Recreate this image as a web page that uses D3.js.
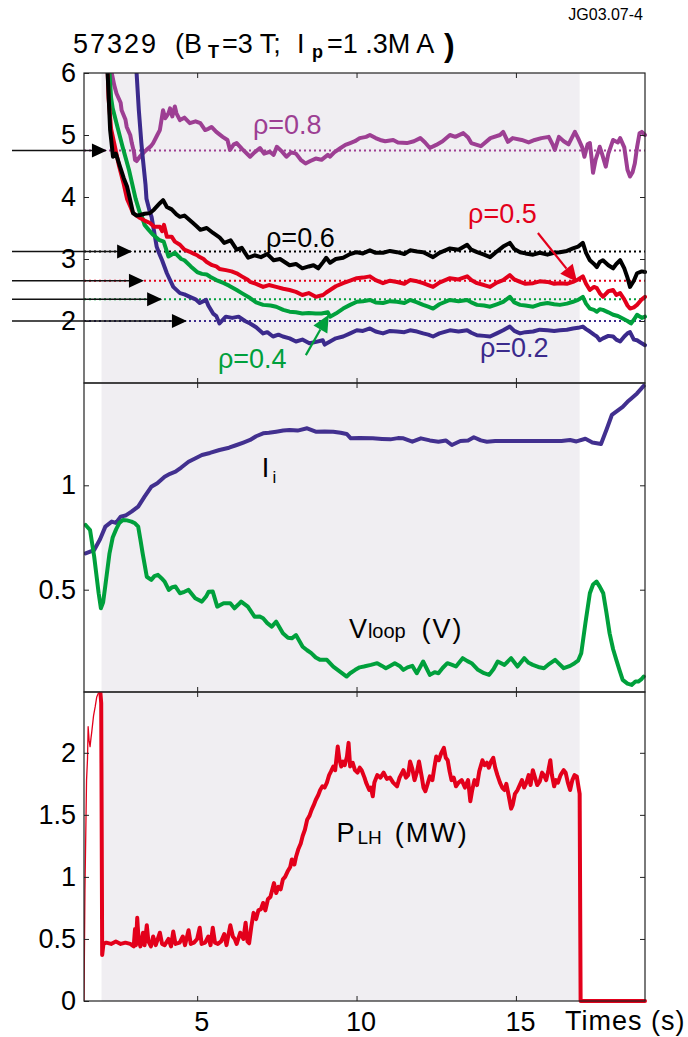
<!DOCTYPE html>
<html>
<head>
<meta charset="utf-8">
<script src="https://cdn.jsdelivr.net/npm/d3@7"></script>
<style>
  body { margin: 0; background: #fff; }
  svg { display: block; font-family: "Liberation Sans", Arial, Helvetica, sans-serif; }
</style>
</head>
<body>
<script>
// ---------------- DATA ----------------
const xTicks = [5, 10, 15];
const p1Ticks = [2, 3, 4, 5, 6];
const p2Ticks = [0.5, 1];
const p3Ticks = [0, 0.5, 1, 1.5, 2];
const shadeTimes = [2.0, 17.0];

// Panel 1: q profiles at several radii [time (s), q]
const rho08 = [[2.25,6.4],[2.32,6.0],[2.4,5.8],[2.47,5.67],[2.6,5.52],[2.63,5.4],[2.75,5.25],[2.79,5.13],[2.9,5.0],[2.95,4.87],[3.02,4.72],[3.05,4.6],[3.1,4.58],[3.2,4.65],[3.33,4.72],[3.41,4.76],[3.55,4.82],[3.62,4.87],[3.75,5.0],[3.83,5.08],[3.93,5.4],[4.0,5.27],[4.1,5.35],[4.15,5.43],[4.22,5.3],[4.3,5.46],[4.35,5.35],[4.46,5.24],[4.6,5.28],[4.77,5.19],[4.95,5.22],[5.1,5.19],[5.25,5.08],[5.35,5.1],[5.45,5.13],[5.6,5.05],[5.8,4.97],[5.95,4.92],[6.03,4.76],[6.15,4.85],[6.24,4.87],[6.4,4.78],[6.66,4.65],[6.8,4.72],[6.97,4.79],[7.1,4.7],[7.28,4.73],[7.4,4.68],[7.5,4.81],[7.65,4.74],[7.8,4.65],[7.95,4.72],[8.1,4.7],[8.25,4.6],[8.4,4.54],[8.55,4.58],[8.72,4.62],[8.9,4.6],[9.1,4.68],[9.17,4.65],[9.3,4.72],[9.5,4.79],[9.65,4.84],[9.8,4.87],[9.95,4.9],[10.1,4.95],[10.3,4.97],[10.42,5.0],[10.6,4.95],[10.74,4.92],[10.9,4.9],[11.15,4.92],[11.3,4.88],[11.58,4.87],[11.8,4.9],[12.0,4.95],[12.15,4.88],[12.3,4.79],[12.5,4.84],[12.7,4.9],[12.93,5.0],[13.1,4.97],[13.35,5.03],[13.5,4.96],[13.6,4.87],[13.9,4.82],[14.2,4.95],[14.5,5.0],[14.6,5.05],[14.75,4.89],[14.9,4.95],[15.18,4.92],[15.4,4.88],[15.59,4.92],[15.8,4.95],[16.03,4.97],[16.15,4.85],[16.22,4.76],[16.35,4.97],[16.5,4.9],[16.65,4.85],[16.85,5.05],[16.95,4.95],[17.08,4.8],[17.15,4.65],[17.25,4.85],[17.32,4.87],[17.38,4.6],[17.42,4.39],[17.5,4.6],[17.63,4.81],[17.7,4.7],[17.82,4.49],[17.9,4.7],[18.05,4.92],[18.2,4.88],[18.27,4.95],[18.4,4.8],[18.5,4.44],[18.58,4.33],[18.66,4.4],[18.73,4.54],[18.8,4.8],[18.88,5.03],[18.95,5.05],[19.05,5.0]];

const rho06 = [[2.15,6.4],[2.2,5.9],[2.27,5.08],[2.36,4.65],[2.45,4.7],[2.58,4.49],[2.7,4.3],[2.8,4.17],[2.9,3.95],[2.99,3.74],[3.1,3.7],[3.21,3.71],[3.35,3.73],[3.52,3.74],[3.65,3.8],[3.83,3.9],[3.93,3.95],[4.05,3.84],[4.2,3.8],[4.35,3.72],[4.46,3.68],[4.6,3.7],[4.87,3.58],[5.0,3.52],[5.1,3.47],[5.3,3.5],[5.5,3.42],[5.7,3.35],[5.85,3.26],[6.05,3.3],[6.24,3.15],[6.4,3.18],[6.6,3.02],[6.8,3.06],[7.0,3.03],[7.2,3.08],[7.4,2.98],[7.6,3.0],[7.9,2.9],[8.1,2.92],[8.3,2.85],[8.5,2.88],[8.65,2.9],[8.8,2.85],[8.95,2.95],[9.05,3.02],[9.17,2.94],[9.35,3.0],[9.58,3.02],[9.8,3.08],[10.01,3.11],[10.2,3.09],[10.42,3.14],[10.6,3.1],[10.83,3.1],[11.05,3.13],[11.27,3.11],[11.5,3.08],[11.68,3.14],[11.9,3.12],[12.09,3.11],[12.25,3.07],[12.4,3.03],[12.6,3.1],[12.93,3.17],[13.2,3.15],[13.47,3.23],[13.6,3.15],[13.78,3.11],[14.0,3.07],[14.19,3.03],[14.4,3.12],[14.6,3.2],[14.81,3.26],[14.95,3.16],[15.13,3.11],[15.3,3.09],[15.54,3.07],[15.75,3.1],[15.99,3.07],[16.2,3.1],[16.38,3.11],[16.6,3.13],[16.79,3.17],[16.95,3.2],[17.1,3.26],[17.2,3.1],[17.32,2.98],[17.45,2.92],[17.54,2.87],[17.63,2.95],[17.73,2.98],[17.9,2.9],[18.05,2.85],[18.15,2.92],[18.27,2.98],[18.4,2.85],[18.5,2.7],[18.58,2.55],[18.7,2.65],[18.8,2.77],[18.95,2.8],[19.05,2.79]];

const rho05 = [[2.17,6.4],[2.22,5.6],[2.3,5.1],[2.42,4.81],[2.55,4.5],[2.7,4.2],[2.8,3.97],[2.9,3.85],[2.99,3.74],[3.1,3.7],[3.21,3.66],[3.35,3.62],[3.52,3.58],[3.65,3.52],[3.83,3.52],[3.9,3.45],[3.96,3.55],[4.05,3.36],[4.2,3.36],[4.3,3.28],[4.46,3.23],[4.6,3.15],[4.75,3.12],[4.87,3.09],[5.0,3.06],[5.05,3.04],[5.2,3.0],[5.3,2.95],[5.47,2.9],[5.6,2.88],[5.7,2.84],[5.9,2.82],[6.08,2.8],[6.24,2.77],[6.4,2.72],[6.6,2.66],[6.66,2.63],[6.85,2.6],[7.07,2.55],[7.25,2.58],[7.48,2.55],[7.7,2.52],[7.9,2.5],[8.1,2.47],[8.3,2.42],[8.5,2.45],[8.72,2.39],[8.95,2.42],[9.05,2.46],[9.17,2.5],[9.35,2.56],[9.58,2.61],[9.8,2.65],[10.01,2.69],[10.2,2.7],[10.42,2.72],[10.6,2.66],[10.83,2.61],[11.05,2.65],[11.27,2.63],[11.5,2.6],[11.68,2.66],[11.9,2.64],[12.09,2.61],[12.25,2.58],[12.4,2.55],[12.6,2.62],[12.93,2.69],[13.2,2.67],[13.47,2.72],[13.6,2.66],[13.78,2.61],[14.0,2.58],[14.19,2.55],[14.4,2.62],[14.6,2.66],[14.81,2.74],[14.95,2.67],[15.13,2.63],[15.3,2.6],[15.54,2.61],[15.75,2.64],[15.99,2.63],[16.2,2.6],[16.38,2.61],[16.6,2.6],[16.79,2.63],[16.95,2.67],[17.1,2.72],[17.2,2.6],[17.32,2.5],[17.45,2.55],[17.54,2.53],[17.63,2.45],[17.73,2.39],[17.9,2.48],[18.05,2.5],[18.15,2.42],[18.27,2.45],[18.4,2.35],[18.5,2.25],[18.58,2.2],[18.7,2.22],[18.8,2.26],[18.95,2.35],[19.05,2.39]];

const rho04 = [[2.2,6.4],[2.3,5.6],[2.35,5.43],[2.5,5.13],[2.66,4.81],[2.86,4.44],[3.07,3.97],[3.2,3.75],[3.27,3.68],[3.35,3.55],[3.48,3.47],[3.6,3.4],[3.8,3.31],[3.95,3.28],[4.1,3.04],[4.3,3.1],[4.5,3.0],[4.6,2.98],[4.8,2.88],[5.0,2.79],[5.15,2.76],[5.3,2.75],[5.42,2.71],[5.6,2.66],[5.84,2.61],[6.0,2.57],[6.24,2.5],[6.4,2.45],[6.66,2.37],[6.85,2.3],[7.07,2.26],[7.3,2.25],[7.48,2.23],[7.7,2.18],[7.9,2.15],[8.1,2.14],[8.3,2.12],[8.5,2.13],[8.72,2.12],[8.9,2.12],[9.1,2.14],[9.17,2.07],[9.35,2.12],[9.58,2.2],[9.8,2.26],[10.01,2.31],[10.2,2.32],[10.42,2.34],[10.6,2.3],[10.83,2.29],[11.05,2.32],[11.27,2.31],[11.5,2.29],[11.68,2.34],[11.9,2.3],[12.09,2.26],[12.25,2.23],[12.4,2.2],[12.6,2.27],[12.93,2.34],[13.2,2.32],[13.47,2.34],[13.6,2.3],[13.78,2.26],[14.0,2.25],[14.19,2.23],[14.4,2.27],[14.6,2.31],[14.81,2.39],[14.95,2.3],[15.13,2.26],[15.3,2.25],[15.54,2.23],[15.75,2.27],[15.99,2.29],[16.2,2.27],[16.38,2.26],[16.6,2.28],[16.79,2.31],[16.95,2.34],[17.1,2.39],[17.2,2.28],[17.32,2.2],[17.45,2.18],[17.54,2.15],[17.63,2.19],[17.73,2.18],[17.9,2.14],[18.05,2.1],[18.2,2.08],[18.35,2.04],[18.5,2.0],[18.61,1.96],[18.7,2.02],[18.8,2.1],[18.95,2.05],[19.05,2.07]];

const rho02 = [[3.05,6.4],[3.1,6.0],[3.17,5.4],[3.25,4.87],[3.3,4.6],[3.38,4.2],[3.41,3.97],[3.52,3.75],[3.57,3.68],[3.73,3.2],[3.8,3.1],[3.9,2.98],[4.05,2.77],[4.25,2.55],[4.46,2.45],[4.6,2.43],[4.77,2.39],[4.95,2.35],[5.08,2.29],[5.28,2.34],[5.35,2.25],[5.5,2.12],[5.6,2.08],[5.7,1.96],[5.9,2.07],[6.1,2.05],[6.3,2.07],[6.5,2.0],[6.66,1.96],[6.85,1.9],[7.07,1.8],[7.2,1.82],[7.38,1.75],[7.55,1.78],[7.69,1.75],[7.9,1.72],[8.1,1.67],[8.3,1.7],[8.52,1.64],[8.7,1.66],[8.94,1.69],[9.0,1.62],[9.17,1.67],[9.35,1.72],[9.58,1.75],[9.8,1.8],[10.01,1.85],[10.2,1.84],[10.42,1.88],[10.6,1.83],[10.83,1.8],[11.05,1.84],[11.27,1.83],[11.5,1.82],[11.68,1.85],[11.9,1.83],[12.09,1.8],[12.25,1.78],[12.4,1.75],[12.6,1.8],[12.93,1.85],[13.2,1.83],[13.47,1.85],[13.6,1.81],[13.78,1.77],[14.0,1.76],[14.19,1.75],[14.4,1.8],[14.6,1.85],[14.81,1.91],[14.95,1.84],[15.13,1.8],[15.3,1.82],[15.54,1.83],[15.75,1.86],[15.99,1.85],[16.2,1.84],[16.38,1.85],[16.6,1.86],[16.79,1.88],[16.95,1.89],[17.1,1.91],[17.2,1.87],[17.32,1.83],[17.45,1.78],[17.54,1.75],[17.63,1.69],[17.73,1.72],[17.9,1.76],[18.05,1.75],[18.15,1.7],[18.27,1.67],[18.4,1.75],[18.5,1.8],[18.58,1.82],[18.7,1.7],[18.8,1.69],[18.95,1.64],[19.05,1.61]];

// reference q levels (dotted) and arrow tip times
const refLevels = [
  { name: "0.8", q: 4.75, tip: 2.17 },
  { name: "0.6", q: 3.12, tip: 2.96 },
  { name: "0.5", q: 2.65, tip: 3.33 },
  { name: "0.4", q: 2.35, tip: 3.90 },
  { name: "0.2", q: 2.00, tip: 4.68 }
];

// Panel 2: internal inductance li and loop voltage
const li = [[1.5,0.674],[1.77,0.69],[1.95,0.74],[2.12,0.802],[2.32,0.826],[2.45,0.82],[2.6,0.85],[2.75,0.855],[2.94,0.874],[3.15,0.898],[3.35,0.946],[3.56,0.993],[3.75,1.01],[3.98,1.041],[4.15,1.055],[4.32,1.065],[4.5,1.085],[4.73,1.113],[4.95,1.13],[5.15,1.145],[5.4,1.155],[5.7,1.169],[6.0,1.18],[6.24,1.193],[6.45,1.205],[6.66,1.217],[6.85,1.235],[7.07,1.249],[7.25,1.252],[7.48,1.257],[7.7,1.262],[7.9,1.265],[8.15,1.262],[8.45,1.273],[8.72,1.257],[9.0,1.258],[9.27,1.257],[9.5,1.252],[9.69,1.246],[9.82,1.225],[10.1,1.226],[10.51,1.225],[10.8,1.222],[11.06,1.22],[11.3,1.226],[11.47,1.225],[11.75,1.209],[12.02,1.225],[12.3,1.215],[12.57,1.209],[12.8,1.215],[12.99,1.193],[13.26,1.212],[13.5,1.215],[13.68,1.23],[13.9,1.215],[14.09,1.209],[14.35,1.212],[14.64,1.212],[15.0,1.212],[15.33,1.212],[15.8,1.212],[16.2,1.212],[16.43,1.212],[16.7,1.217],[16.9,1.21],[17.18,1.223],[17.4,1.205],[17.67,1.198],[17.85,1.27],[18.01,1.337],[18.35,1.376],[18.5,1.40],[18.63,1.417],[18.8,1.44],[19.01,1.476]];

const vloop = [[1.5,0.81],[1.64,0.786],[1.77,0.658],[1.91,0.483],[1.98,0.411],[2.05,0.44],[2.12,0.52],[2.25,0.674],[2.35,0.75],[2.46,0.79],[2.56,0.82],[2.67,0.834],[2.8,0.832],[2.94,0.826],[3.05,0.818],[3.15,0.802],[3.22,0.74],[3.29,0.674],[3.42,0.562],[3.56,0.547],[3.66,0.565],[3.77,0.571],[3.88,0.555],[3.98,0.539],[4.11,0.499],[4.22,0.512],[4.32,0.515],[4.46,0.483],[4.6,0.49],[4.73,0.499],[4.94,0.459],[5.15,0.443],[5.28,0.467],[5.36,0.49],[5.49,0.491],[5.63,0.419],[5.83,0.435],[6.04,0.435],[6.17,0.411],[6.3,0.43],[6.38,0.443],[6.59,0.419],[6.8,0.371],[6.95,0.372],[7.07,0.363],[7.2,0.34],[7.34,0.323],[7.48,0.347],[7.69,0.291],[7.85,0.27],[7.97,0.267],[8.1,0.283],[8.31,0.227],[8.45,0.21],[8.58,0.196],[8.72,0.175],[8.86,0.164],[9.07,0.164],[9.27,0.132],[9.48,0.108],[9.69,0.084],[9.8,0.1],[9.96,0.116],[10.1,0.128],[10.23,0.132],[10.45,0.14],[10.65,0.148],[10.8,0.135],[10.92,0.124],[11.05,0.135],[11.2,0.148],[11.35,0.135],[11.47,0.116],[11.6,0.128],[11.75,0.135],[11.89,0.1],[12.09,0.156],[12.3,0.092],[12.45,0.105],[12.57,0.1],[12.7,0.125],[12.85,0.148],[13.0,0.14],[13.12,0.132],[13.33,0.172],[13.48,0.158],[13.61,0.148],[13.81,0.116],[14.0,0.1],[14.16,0.092],[14.3,0.12],[14.43,0.156],[14.64,0.14],[14.85,0.172],[15.05,0.132],[15.26,0.172],[15.4,0.15],[15.53,0.14],[15.7,0.13],[15.88,0.124],[16.05,0.145],[16.23,0.164],[16.5,0.124],[16.7,0.135],[16.84,0.148],[16.95,0.16],[17.05,0.196],[17.18,0.339],[17.32,0.483],[17.42,0.525],[17.53,0.539],[17.63,0.515],[17.74,0.483],[17.84,0.39],[17.94,0.291],[18.05,0.215],[18.15,0.164],[18.25,0.115],[18.35,0.068],[18.5,0.05],[18.63,0.044],[18.75,0.06],[18.84,0.06],[18.93,0.07],[19.01,0.084]];

// Panel 3: lower hybrid power (MW)
const plhStart = [[1.45,0.0],[1.48,0.9],[1.53,1.78],[1.56,1.95],[1.58,2.21],[1.61,2.1],[1.64,2.05],[1.67,2.12],[1.69,2.16],[1.75,2.3],[1.8,2.37],[1.85,2.45],[1.9,2.48]];
const plh = [[1.93,2.6],[1.99,2.4],[2.02,0.37],[2.06,0.46],[2.15,0.47],[2.3,0.46],[2.45,0.48],[2.6,0.46],[2.75,0.47],[2.9,0.46],[3.01,0.44],[3.05,0.58],[3.08,0.45],[3.12,0.67],[3.16,0.5],[3.22,0.44],[3.3,0.55],[3.35,0.45],[3.42,0.61],[3.47,0.48],[3.55,0.44],[3.62,0.52],[3.7,0.45],[3.83,0.55],[3.9,0.46],[3.98,0.45],[4.1,0.5],[4.18,0.44],[4.25,0.56],[4.32,0.46],[4.45,0.47],[4.55,0.52],[4.62,0.45],[4.73,0.57],[4.8,0.46],[4.9,0.47],[5.0,0.5],[5.08,0.59],[5.14,0.46],[5.25,0.47],[5.35,0.52],[5.42,0.45],[5.49,0.59],[5.56,0.47],[5.65,0.46],[5.75,0.48],[5.85,0.54],[5.92,0.45],[6.04,0.61],[6.12,0.52],[6.18,0.5],[6.24,0.46],[6.35,0.55],[6.45,0.5],[6.52,0.63],[6.58,0.48],[6.63,0.465],[6.7,0.6],[6.77,0.71],[6.85,0.66],[6.92,0.73],[7.0,0.74],[7.07,0.79],[7.14,0.73],[7.22,0.82],[7.3,0.84],[7.41,0.95],[7.48,0.87],[7.55,0.92],[7.62,0.9],[7.69,0.98],[7.76,1.0],[7.85,1.05],[7.92,1.08],[7.97,1.14],[8.05,1.1],[8.1,1.16],[8.17,1.22],[8.25,1.27],[8.31,1.33],[8.38,1.38],[8.45,1.46],[8.52,1.49],[8.59,1.54],[8.66,1.58],[8.72,1.62],[8.8,1.66],[8.86,1.7],[8.93,1.73],[9.0,1.72],[9.07,1.76],[9.14,1.82],[9.2,1.85],[9.27,1.89],[9.33,1.86],[9.41,2.05],[9.46,1.95],[9.52,1.89],[9.58,1.93],[9.63,1.9],[9.7,1.97],[9.75,2.08],[9.8,1.89],[9.88,1.92],[9.95,1.86],[10.03,1.84],[10.1,1.88],[10.16,1.86],[10.25,1.8],[10.3,1.76],[10.4,1.7],[10.45,1.72],[10.51,1.65],[10.56,1.76],[10.65,1.82],[10.75,1.8],[10.85,1.84],[10.95,1.79],[11.05,1.8],[11.15,1.76],[11.27,1.73],[11.35,1.8],[11.47,1.86],[11.55,1.8],[11.62,1.82],[11.68,1.93],[11.75,1.87],[11.82,1.78],[11.9,1.85],[11.96,1.93],[12.05,1.8],[12.1,1.72],[12.16,1.69],[12.23,1.75],[12.3,1.81],[12.38,1.78],[12.44,1.88],[12.5,1.97],[12.58,1.94],[12.66,2.0],[12.74,2.04],[12.8,1.96],[12.86,1.94],[12.92,1.85],[12.98,1.78],[13.05,1.8],[13.12,1.73],[13.2,1.76],[13.3,1.78],[13.4,1.72],[13.5,1.78],[13.57,1.61],[13.63,1.7],[13.7,1.78],[13.78,1.74],[13.85,1.85],[13.95,1.94],[14.02,1.9],[14.09,1.92],[14.15,1.88],[14.22,1.93],[14.29,1.96],[14.35,1.88],[14.42,1.82],[14.5,1.76],[14.57,1.72],[14.64,1.7],[14.7,1.75],[14.77,1.66],[14.85,1.55],[14.9,1.58],[14.97,1.67],[15.05,1.7],[15.12,1.74],[15.19,1.78],[15.26,1.72],[15.33,1.76],[15.4,1.82],[15.46,1.74],[15.53,1.86],[15.6,1.8],[15.67,1.74],[15.75,1.77],[15.82,1.84],[15.88,1.82],[15.95,1.78],[16.02,1.86],[16.08,1.94],[16.13,1.82],[16.2,1.73],[16.26,1.78],[16.32,1.76],[16.4,1.82],[16.5,1.86],[16.56,1.84],[16.63,1.76],[16.7,1.7],[16.77,1.78],[16.84,1.82],[16.91,1.81],[16.96,1.73],[17.0,1.67],[17.03,0.0],[19.05,0.0]];

// ---------------- CHART ----------------
const W = 688, H = 1037;
const FONT = 27;
const LW = 4;
const svg = d3.select("body").append("svg").attr("width", W).attr("height", H);

const x = d3.scaleLinear().domain([1.45, 19.05]).range([84, 645]);
const y1 = d3.scaleLinear().domain([1, 6]).range([383, 73]);
const y2 = d3.scaleLinear().domain([0.01, 1.49]).range([692, 383]);
const y3 = d3.scaleLinear().domain([0, 2.49]).range([1001, 692]);

const C = {
  purple: "#9d3f93", black: "#000000", red: "#e3001b",
  green: "#00a03c", navy: "#3b2a8c", shade: "#f0eef2", axis: "#222"
};

// shading (whole height)
svg.append("rect")
  .attr("x", x(shadeTimes[0])).attr("y", y1.range()[1])
  .attr("width", x(shadeTimes[1]) - x(shadeTimes[0]))
  .attr("height", y3.range()[0] - y1.range()[1])
  .attr("fill", C.shade);

const defs = svg.append("defs");
function clip(id, y, extraBottom) {
  defs.append("clipPath").attr("id", id).append("rect")
    .attr("x", x.range()[0]).attr("y", y.range()[1])
    .attr("width", x.range()[1] - x.range()[0] + 2)
    .attr("height", y.range()[0] - y.range()[1] + extraBottom);
}
clip("c1", y1, 0); clip("c2", y2, 0); clip("c3", y3, 3);

function drawLine(g, data, y, color, w) {
  g.append("path").datum(data)
    .attr("d", d3.line().x(d => x(d[0])).y(d => y(d[1])))
    .attr("fill", "none").attr("stroke", color).attr("stroke-width", w)
    .attr("stroke-linejoin", "round").attr("stroke-linecap", "round");
}

// axes
function axes(y, ticks, showLabels, showX) {
  const gl = svg.append("g").attr("transform", `translate(${x.range()[0]},0)`)
    .call(d3.axisLeft(y).tickValues(ticks).tickSize(-5).tickPadding(8)
      .tickFormat(showLabels ? d => String(d) : ""));
  gl.select(".domain").remove();
  gl.selectAll("line").attr("stroke", C.axis);
  gl.selectAll("text").attr("font-size", FONT).attr("fill", "#000")
    .attr("font-family", '"Liberation Sans", Arial, sans-serif');
  const gr = svg.append("g").attr("transform", `translate(${x.range()[1]},0)`)
    .call(d3.axisRight(y).tickValues(ticks.filter(t => t > y.domain()[0] + 0.02 && t < y.domain()[1] - 0.02)).tickSize(-5).tickFormat(""));
  gr.select(".domain").remove();
  gr.selectAll("line").attr("stroke", C.axis);
  const gt = svg.append("g").attr("transform", `translate(0,${y.range()[1]})`)
    .call(d3.axisTop(x).tickValues(xTicks).tickSize(-5).tickFormat(""));
  gt.select(".domain").remove();
  gt.selectAll("line").attr("stroke", C.axis);
  const gb = svg.append("g").attr("transform", `translate(0,${y.range()[0]})`)
    .call(d3.axisBottom(x).tickValues(xTicks).tickSize(-5).tickPadding(11)
      .tickFormat(showX ? d => String(d) : ""));
  gb.select(".domain").remove();
  gb.selectAll("line").attr("stroke", C.axis);
  gb.selectAll("text").attr("font-size", FONT).attr("fill", "#000").attr("dx", 4)
    .attr("font-family", '"Liberation Sans", Arial, sans-serif');
  // frame
  svg.append("rect")
    .attr("x", x.range()[0]).attr("y", y.range()[1])
    .attr("width", x.range()[1] - x.range()[0])
    .attr("height", y.range()[0] - y.range()[1])
    .attr("fill", "none").attr("stroke", C.axis).attr("stroke-width", 1.2);
}

// ---------- Panel 1 ----------
const g1 = svg.append("g").attr("clip-path", "url(#c1)");
const refColors = { "0.8": C.purple, "0.6": C.black, "0.5": C.red, "0.4": C.green, "0.2": C.navy };
refLevels.forEach(r => {
  g1.append("line")
    .attr("x1", x.range()[0]).attr("x2", x.range()[1])
    .attr("y1", y1(r.q)).attr("y2", y1(r.q))
    .attr("stroke", refColors[r.name]).attr("stroke-width", 2)
    .attr("stroke-dasharray", "2,3");
});
drawLine(g1, rho08, y1, C.purple, LW);
drawLine(g1, rho02, y1, C.navy, LW);
drawLine(g1, rho04, y1, C.green, LW);
drawLine(g1, rho05, y1, C.red, LW);
drawLine(g1, rho06, y1, C.black, LW);

// horizontal pointer arrows from the left margin
refLevels.forEach(r => {
  const tx = x(r.tip), ty = y1(r.q);
  svg.append("line").attr("x1", 12).attr("x2", tx - 10).attr("y1", ty).attr("y2", ty)
    .attr("stroke", "#111").attr("stroke-width", 1.5);
  svg.append("path")
    .attr("d", `M${tx},${ty} L${tx - 15},${ty - 7} L${tx - 15},${ty + 7} Z`)
    .attr("fill", "#000");
});

axes(y1, p1Ticks, true, false);

// callout arrows
function callout(from, to, color) {
  const x1 = x(from[0]), yA = y1(from[1]), x2 = x(to[0]), yB = y1(to[1]);
  const ang = Math.atan2(yB - yA, x2 - x1);
  const L = 17, Wd = 8;
  const bx = x2 - L * Math.cos(ang), by = yB - L * Math.sin(ang);
  svg.append("line").attr("x1", x1).attr("y1", yA).attr("x2", bx).attr("y2", by)
    .attr("stroke", color).attr("stroke-width", 2.2);
  svg.append("path")
    .attr("d", `M${x2},${yB} L${bx + Wd * Math.sin(ang)},${by - Wd * Math.cos(ang)} L${bx - Wd * Math.sin(ang)},${by + Wd * Math.cos(ang)} Z`)
    .attr("fill", color);
}
callout([15.69, 3.42], [16.92, 2.63], C.red);
callout([8.41, 1.45], [9.13, 2.10], C.green);

const labels1 = [
  { text: "ρ=0.8", t: 6.75, q: 5.02, color: C.purple },
  { text: "ρ=0.6", t: 7.16, q: 3.19, color: C.black },
  { text: "ρ=0.5", t: 13.5, q: 3.58, color: C.red },
  { text: "ρ=0.4", t: 5.65, q: 1.24, color: C.green },
  { text: "ρ=0.2", t: 13.87, q: 1.42, color: C.navy }
];
labels1.forEach(l => {
  svg.append("text").attr("x", x(l.t)).attr("y", y1(l.q))
    .attr("font-size", FONT).attr("fill", l.color).text(l.text);
});

// ---------- Panel 2 ----------
const g2 = svg.append("g").attr("clip-path", "url(#c2)");
drawLine(g2, li, y2, "#42308f", LW);
drawLine(g2, vloop, y2, C.green, LW);
axes(y2, p2Ticks, true, false);

const tI = svg.append("text").attr("x", x(7.03)).attr("y", y2(1.04)).attr("font-size", FONT);
tI.append("tspan").text("I");
tI.append("tspan").attr("font-size", 17).attr("dx", 3).attr("dy", 6).text("i");

svg.append("text").attr("x", x(9.76)).attr("y", y2(0.269)).attr("font-size", FONT).text("V");
svg.append("text").attr("x", x(9.76) + 19).attr("y", y2(0.269)).attr("font-size", 20).text("loop");
svg.append("text").attr("x", x(12.04)).attr("y", y2(0.269)).attr("font-size", FONT).attr("letter-spacing", 2).text("(V)");

// ---------- Panel 3 ----------
const g3 = svg.append("g").attr("clip-path", "url(#c3)");
drawLine(g3, plhStart, y3, C.red, 1.3);
drawLine(g3, plh, y3, C.red, LW);
axes(y3, p3Ticks, true, true);

svg.append("text").attr("x", x(9.37)).attr("y", y3(1.28)).attr("font-size", FONT).text("P");
svg.append("text").attr("x", x(9.37) + 21).attr("y", y3(1.28) + 2).attr("font-size", 19).text("LH");
svg.append("text").attr("x", x(11.2)).attr("y", y3(1.28)).attr("font-size", FONT).attr("letter-spacing", 2).text("(MW)");

svg.append("text").attr("x", 565).attr("y", 1030).attr("font-size", FONT).attr("letter-spacing", 1).text("Times (s)");

// ---------- Title ----------
const ty = 53;
svg.append("text").attr("x", 73).attr("y", ty).attr("font-size", FONT).attr("letter-spacing", 2).text("57329");
svg.append("text").attr("x", 175).attr("y", ty).attr("font-size", FONT).text("(B");
svg.append("text").attr("x", 208).attr("y", ty + 5).attr("font-size", 18).attr("font-weight", "bold").text("T");
svg.append("text").attr("x", 222).attr("y", ty).attr("font-size", FONT).text("=3 T;");
svg.append("text").attr("x", 297).attr("y", ty).attr("font-size", FONT).text("I");
svg.append("text").attr("x", 312).attr("y", ty + 5).attr("font-size", 18).attr("font-weight", "bold").text("p");
svg.append("text").attr("x", 327).attr("y", ty).attr("font-size", FONT).text("=1 .3M A");
svg.append("text").attr("x", 444).attr("y", ty + 3).attr("font-size", 32).attr("font-weight", "bold").text(")");

svg.append("text").attr("x", 643).attr("y", 20).attr("font-size", 16).attr("text-anchor", "end").text("JG03.07-4");
</script>
</body>
</html>
